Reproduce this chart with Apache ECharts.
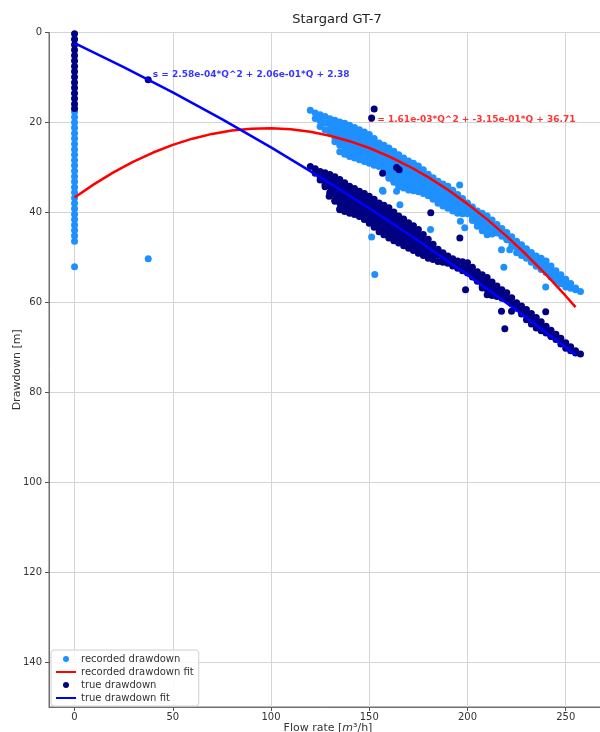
<!DOCTYPE html>
<html>
<head>
<meta charset="utf-8">
<title>Stargard GT-7</title>
<script src="https://cdn.jsdelivr.net/npm/echarts@6/dist/echarts.min.js"></script>
<style>
  html, body { margin: 0; padding: 0; background: #ffffff; }
  #drawdownChart { width: 600px; height: 732px; }
</style>
</head>
<body>
<div id="drawdownChart"></div>
<script>
// ---- data (Q = flow rate [m3/h], s = drawdown [m]) ----

// recorded drawdown: the points stacked at Q = 0
const recordedAtZero = [17.6, 18.8, 20.0, 21.2, 22.4, 23.6, 24.8, 26.0, 27.2, 28.4, 29.6, 30.8, 32.0,
  33.2, 34.4, 35.6, 36.8, 38.0, 39.2, 40.4, 41.6, 42.8, 44.0, 45.2, 46.4, 52.1];

// recorded drawdown: main cloud, one column of drawdowns per flow rate
const recordedCloud = [
  [120, [17.3]], [122.5, [17.9, 19.1]], [125, [18.3, 19.6, 20.9]], [127.5, [18.7, 20.1, 21.6]],
  [130, [19.2, 20.5, 21.8, 22.4]], [132.5, [19.5, 20.8, 22.1, 23.4, 24.3]],
  [135, [19.9, 21.2, 22.5, 23.8, 25.1, 26.5]], [137.5, [20.2, 21.5, 22.8, 24.1, 25.4, 26.7, 27.1]],
  [140, [20.6, 21.9, 23.2, 24.5, 25.8, 27.1, 27.6]], [142.5, [21.1, 22.4, 23.7, 25.0, 26.3, 27.6, 27.9]],
  [145, [21.6, 22.9, 24.2, 25.5, 26.8, 28.1, 28.3]], [147.5, [22.1, 23.4, 24.7, 26.0, 27.3, 28.7]],
  [150, [22.7, 24.0, 25.3, 26.6, 27.9, 29.1]], [152.5, [23.6, 24.9, 26.2, 27.5, 28.8, 29.5]],
  [155, [24.6, 25.9, 27.2, 28.5, 29.8]], [157.5, [25.1, 26.4, 27.7, 29.0, 30.3, 31.1]],
  [160, [25.7, 27.0, 28.3, 29.6, 30.9, 32.2, 32.4]], [162.5, [26.4, 27.7, 29.0, 30.3, 31.6, 32.9, 33.3]],
  [165, [27.2, 28.5, 29.8, 31.1, 32.4, 33.7, 34.3]], [167.5, [27.9, 29.2, 30.5, 31.8, 33.1, 34.4, 34.6]],
  [170, [28.6, 29.9, 31.2, 32.5, 33.8, 35.0]], [172.5, [29.1, 30.4, 31.7, 33.0, 34.3, 35.2]],
  [175, [29.7, 31.0, 32.3, 33.6, 34.9, 35.4]], [177.5, [30.5, 31.8, 33.1, 34.4, 35.8]],
  [180, [31.5, 32.8, 34.1, 35.4, 36.3]], [182.5, [32.3, 33.6, 34.9, 36.2, 37.1]],
  [185, [33.1, 34.4, 35.7, 37.0, 38.0]], [187.5, [33.7, 35.0, 36.3, 37.6, 38.6]],
  [190, [34.2, 35.5, 36.8, 38.1, 39.1]], [192.5, [35.1, 36.4, 37.7, 39.0, 39.7]],
  [195, [36.0, 37.3, 38.6, 39.9, 40.2]], [197.5, [36.9, 38.2, 39.5, 40.3]],
  [200, [37.9, 39.2, 40.3]], [202.5, [38.8, 40.1, 41.4, 41.8]],
  [205, [39.7, 41.0, 42.3, 43.1]], [207.5, [40.2, 41.5, 42.8, 44.1]],
  [210, [40.8, 42.1, 43.4, 44.7, 45.0]], [212.5, [41.7, 43.0, 44.3, 44.8]],
  [215, [42.7, 44.0, 44.6]], [217.5, [43.6, 44.9, 45.3]], [220, [44.5, 45.8, 46.1]],
  [222.5, [45.4, 46.7, 47.6]], [225, [46.4, 47.7, 49.0]], [227.5, [47.2, 48.5, 49.6]],
  [230, [48.1, 49.4, 50.2]], [232.5, [48.9, 50.2, 51.1]], [235, [49.7, 51.0, 52.0]],
  [237.5, [50.2, 51.5, 52.7]], [240, [50.8, 52.1, 53.4]], [242.5, [51.9, 53.2, 54.4]],
  [245, [53.0, 54.3, 55.3]], [247.5, [53.9, 55.2, 55.9]], [250, [54.9, 56.2, 56.6]],
  [252.5, [55.8, 56.9]], [255, [56.8, 57.2]], [257.5, [57.6]]
];

// recorded drawdown: scattered single points
const recordedStray = [[37.5, 50.3], [156.7, 35.1], [157, 35.3], [163.9, 35.3], [165.6, 38.3],
  [181.2, 43.8], [151.2, 45.5], [152.8, 53.8], [196, 33.9], [196.4, 42], [198.6, 43.4],
  [217.3, 48.3], [221.5, 48.3], [218.5, 52.2], [239.8, 56.6]];

// true drawdown: the points stacked at Q = 0
const trueAtZero = [0.3, 1.5, 2.7, 3.9, 5.1, 6.3, 7.5, 8.7, 9.9, 11.1, 12.3, 13.5, 14.7, 15.9, 16.9];

// true drawdown: main cloud
const trueCloud = [
  [120, [29.8]], [122.5, [30.3, 31.3]], [125, [30.9, 32.1, 32.8]], [127.5, [31.2, 32.5, 33.8, 34.3]],
  [130, [31.6, 32.9, 34.2, 35.5, 35.7]], [132.5, [32.1, 33.4, 34.7, 36.0, 37.3, 37.5]],
  [135, [32.7, 34.0, 35.3, 36.6, 37.9, 39.2, 39.4]], [137.5, [33.4, 34.7, 36.0, 37.3, 38.6, 39.8]],
  [140, [34.2, 35.5, 36.8, 38.1, 39.4, 40.2]], [142.5, [34.7, 36.0, 37.3, 38.6, 39.9, 40.5]],
  [145, [35.3, 36.6, 37.9, 39.2, 40.5, 40.9]], [147.5, [35.8, 37.1, 38.4, 39.7, 41.0, 41.6]],
  [150, [36.4, 37.7, 39.0, 40.3, 41.6, 42.4]], [152.5, [37.1, 38.4, 39.7, 41.0, 42.3, 43.3]],
  [155, [37.9, 39.2, 40.5, 41.8, 43.1, 44.3]], [157.5, [38.4, 39.7, 41.0, 42.3, 43.6, 44.9, 45.0]],
  [160, [39.0, 40.3, 41.6, 42.9, 44.2, 45.5, 45.7]], [162.5, [39.9, 41.2, 42.5, 43.8, 45.1, 46.3]],
  [165, [40.8, 42.1, 43.4, 44.7, 46.0, 46.8]], [167.5, [41.5, 42.8, 44.1, 45.4, 46.7, 47.4]],
  [170, [42.3, 43.6, 44.9, 46.2, 47.5, 48.0]], [172.5, [43.0, 44.3, 45.6, 46.9, 48.2, 48.5]],
  [175, [43.8, 45.1, 46.4, 47.7, 49.0, 49.1]], [177.5, [44.9, 46.2, 47.5, 48.8, 49.6]],
  [180, [46.0, 47.3, 48.6, 49.9, 50.2]], [182.5, [47.1, 48.4, 49.7, 50.5]],
  [185, [48.2, 49.5, 50.9]], [187.5, [49.0, 50.3, 51.1]], [190, [49.7, 51.0, 51.3]],
  [192.5, [50.3, 51.6, 51.9]], [195, [50.8, 52.1, 52.4]], [197.5, [51.0, 52.3, 53.0]],
  [200, [51.2, 52.5, 53.5]], [202.5, [52.2, 53.5, 54.4]], [205, [53.2, 54.5, 55.3]],
  [207.5, [53.9, 55.2, 56.5, 56.8]], [210, [54.5, 55.8, 57.1, 58.3]], [212.5, [55.5, 56.8, 58.1, 58.5]],
  [215, [56.4, 57.7, 58.7]], [217.5, [57.2, 58.5, 59.1]], [220, [57.9, 59.2, 59.4]],
  [222.5, [59.0, 60.3]], [225, [60.1, 61.3]], [227.5, [60.8, 62.1, 62.6]],
  [230, [61.6, 62.9, 63.9]], [232.5, [62.5, 63.8, 64.8]], [235, [63.4, 64.7, 65.7]],
  [237.5, [64.3, 65.6, 66.3]], [240, [65.3, 66.6, 66.8]], [242.5, [66.2, 67.5, 67.6]],
  [245, [67.1, 68.3]], [247.5, [68.0, 69.3]], [250, [69.0, 70.2]], [252.5, [69.9, 70.8]],
  [255, [70.8, 71.3]], [257.5, [71.5]]
];

// true drawdown: scattered single points
const trueStray = [[37.5, 10.5], [152.5, 17.0], [151.2, 19.0], [163.9, 30.0], [165.2, 30.5],
  [156.8, 31.3], [129.6, 36.4], [181.3, 40.1], [196.1, 45.7], [199, 57.2], [217.3, 62],
  [219, 65.9], [222.4, 62], [239.8, 62.1]];

// fitted curves, read at a few flow rates
const recordedFitQ = [0, 10, 20, 30, 40, 50, 60, 70, 80, 90, 100, 110, 120, 130, 140, 150, 160,
  170, 180, 190, 200, 210, 220, 230, 240, 250, 255];
const recordedFitS = [36.71, 33.72, 31.05, 28.71, 26.69, 24.99, 23.61, 22.55, 21.81, 21.40, 21.31,
  21.54, 22.09, 22.97, 24.17, 25.69, 27.53, 29.69, 32.17, 34.98, 38.11, 41.56, 45.33, 49.43,
  53.85, 58.59, 61.07];
const trueFitQ = [0, 25, 50, 75, 100, 125, 150, 175, 200, 225, 255];
const trueFitS = [2.38, 7.69, 13.33, 19.28, 25.56, 32.16, 39.09, 46.33, 53.90, 61.79, 71.69];

// equation labels and where they sit
const equationTexts = ['s = 2.58e-04*Q^2 + 2.06e-01*Q + 2.38', 's = 1.61e-03*Q^2 + -3.15e-01*Q + 36.71'];
const equationAt = [[40.1, 10.5], [150, 20.6]];
const equationColors = ['#0000ff', '#ff0000'];

// ---- build series data ----
function columnsToPoints(cols) {
  let pts = [];
  cols.forEach(col => {
    col[1].forEach(s => pts.push([col[0], s]));
  });
  return pts;
}

let recordedPts = recordedAtZero.map(s => [0, s])
  .concat(columnsToPoints(recordedCloud))
  .concat(recordedStray);
let truePts = trueAtZero.map(s => [0, s])
  .concat(columnsToPoints(trueCloud))
  .concat(trueStray);
let recordedFit = recordedFitQ.map((q, i) => [q, recordedFitS[i]]);
let trueFit = trueFitQ.map((q, i) => [q, trueFitS[i]]);

const fontFam = 'DejaVu Sans';
const myChart = echarts.init(document.getElementById('drawdownChart'));

// legend entry for a fit line: line only, no dot in the middle
const noDot = { color: 'rgba(0,0,0,0)', borderWidth: 0, opacity: 0 };

let option = {
  animation: false,
  textStyle: { fontFamily: fontFam },
  title: {
    text: 'Stargard GT-7',
    left: 332,
    top: 8,
    textAlign: 'center',
    textStyle: { fontSize: 13, fontWeight: 'normal', color: '#222', fontFamily: fontFam }
  },
  grid: {
    left: 49,
    right: -7,
    top: 32.5,
    bottom: 25,
    containLabel: false,
    outerBoundsMode: 'none',
    show: true,
    borderColor: '#6f6f6f',
    borderWidth: 1
  },
  legend: {
    orient: 'vertical',
    left: 51,
    top: 650,
    padding: [3, 5, 2, 4],
    itemGap: 1,
    itemWidth: 20,
    itemHeight: 6,
    backgroundColor: 'rgba(255,255,255,0.85)',
    borderColor: '#d0d0d0',
    borderWidth: 1,
    borderRadius: 3,
    textStyle: { fontSize: 10, color: '#333', lineHeight: 12, fontFamily: fontFam },
    data: [
      { name: 'recorded drawdown', icon: 'circle' },
      { name: 'recorded drawdown fit', itemStyle: noDot },
      { name: 'true drawdown', icon: 'circle' },
      { name: 'true drawdown fit', itemStyle: noDot }
    ]
  },
  xAxis: {
    type: 'value',
    min: -13,
    max: 271,
    splitNumber: 5,
    name: 'Flow rate [{i|m}³/h]',
    nameLocation: 'middle',
    nameGap: 16,
    nameMoveOverlap: false,
    nameTextStyle: {
      fontSize: 11, color: '#333',
      rich: { i: { fontSize: 11, fontStyle: 'italic', color: '#333' } }
    },
    axisLine: { onZero: false, lineStyle: { color: '#6f6f6f' } },
    axisTick: { length: 4, lineStyle: { color: '#555' } },
    axisLabel: { showMinLabel: false, showMaxLabel: false, margin: 5, fontSize: 10, color: '#333' },
    splitLine: { show: true, lineStyle: { color: '#d4d4d4', width: 1 } }
  },
  yAxis: {
    type: 'value',
    inverse: true,
    min: 0,
    max: 150,
    interval: 20,
    name: 'Drawdown [m]',
    nameLocation: 'middle',
    nameGap: 26,
    nameMoveOverlap: false,
    nameTextStyle: { fontSize: 11, color: '#333' },
    axisLine: { onZero: false, lineStyle: { color: '#6f6f6f' } },
    axisTick: { length: 4, lineStyle: { color: '#555' } },
    axisLabel: { showMaxLabel: false, margin: 7, fontSize: 10, color: '#333' },
    splitLine: { show: true, lineStyle: { color: '#d4d4d4', width: 1 } }
  },
  series: [
    {
      name: 'recorded drawdown',
      type: 'scatter',
      symbolSize: 7,
      itemStyle: { color: '#1e90ff', opacity: 1 },
      data: recordedPts,
      z: 2
    },
    {
      name: 'recorded drawdown fit',
      type: 'line',
      showSymbol: false,
      symbol: 'none',
      lineStyle: { color: '#ff0000', width: 2.5 },
      itemStyle: { color: '#ff0000' },
      data: recordedFit,
      z: 3
    },
    {
      name: 'equation recorded',
      type: 'scatter',
      symbolSize: 1,
      silent: true,
      itemStyle: { color: 'transparent' },
      data: [equationAt[1]],
      label: {
        show: true,
        position: [0, 0],
        align: 'left',
        verticalAlign: 'bottom',
        formatter: equationTexts[1],
        color: equationColors[1],
        fontSize: 9,
        fontWeight: 'bold',
        fontFamily: fontFam
      },
      z: 3
    },
    {
      name: 'true drawdown',
      type: 'scatter',
      symbolSize: 7,
      itemStyle: { color: '#000080', opacity: 1 },
      data: truePts,
      z: 4
    },
    {
      name: 'true drawdown fit',
      type: 'line',
      showSymbol: false,
      symbol: 'none',
      lineStyle: { color: '#0000ff', width: 2.5 },
      itemStyle: { color: '#0000ff' },
      data: trueFit,
      z: 5
    },
    {
      name: 'equation true',
      type: 'scatter',
      symbolSize: 1,
      silent: true,
      itemStyle: { color: 'transparent' },
      data: [equationAt[0]],
      label: {
        show: true,
        position: [0, 0],
        align: 'left',
        verticalAlign: 'bottom',
        formatter: equationTexts[0],
        color: equationColors[0],
        fontSize: 9,
        fontWeight: 'bold',
        fontFamily: fontFam
      },
      z: 6
    }
  ]
};

myChart.setOption(option);
</script>
</body>
</html>
